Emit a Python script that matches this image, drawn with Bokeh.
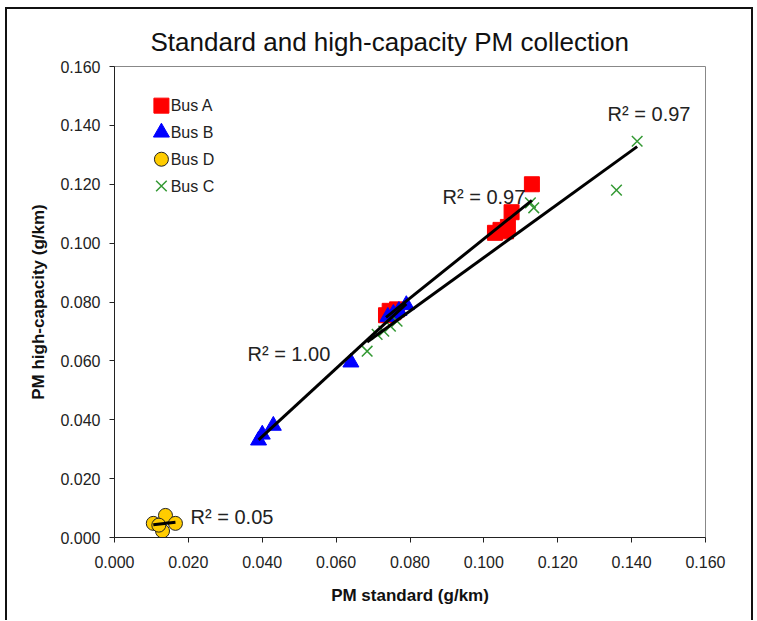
import numpy as np
from bokeh.plotting import figure
from bokeh.models import Label, FixedTicker, CustomJSTickFormatter
from bokeh.core.properties import value
from bokeh.embed import file_html
from bokeh.resources import INLINE

# ---- data ----
bus_a_x = [0.0735, 0.0745, 0.0755, 0.0765, 0.1030, 0.1045, 0.1060, 0.1065, 0.1075, 0.1130]
bus_a_y = [0.0755, 0.0770, 0.0765, 0.0775, 0.1035, 0.1045, 0.1040, 0.1055, 0.1105, 0.1200]

bus_b_x = [0.0390, 0.0400, 0.0430, 0.0640, 0.0740, 0.0755, 0.0770, 0.0790]
bus_b_y = [0.0330, 0.0350, 0.0380, 0.0595, 0.0750, 0.0760, 0.0770, 0.0790]

bus_c_x = [0.0684, 0.0711, 0.0729, 0.0747, 0.0765, 0.1126, 0.1135, 0.1359, 0.1415]
bus_c_y = [0.0633, 0.0690, 0.0701, 0.0718, 0.0735, 0.1137, 0.1120, 0.1180, 0.1346]

bus_d_x = [0.0105, 0.0138, 0.0165, 0.0130, 0.0120]
bus_d_y = [0.0048, 0.0075, 0.0048, 0.0022, 0.0042]

legend_labels = ["Bus A", "Bus B", "Bus D", "Bus C"]
r2_labels = ["R² = 0.97", "R² = 1.00", "R² = 0.97", "R² = 0.05"]  # A, B, C, D
ticks = [0.000, 0.020, 0.040, 0.060, 0.080, 0.100, 0.120, 0.140, 0.160]

FONT = "Liberation Sans"

p = figure(width=748, height=613, x_range=(0, 0.16), y_range=(0, 0.16),
           output_backend="svg", toolbar_location=None,
           min_border_left=107, min_border_right=50, min_border_top=57, min_border_bottom=85,
           margin=(7, 0, 0, 5),
           styles={"border-left": "2px solid #111", "border-top": "2px solid #111",
                   "border-right": "2px solid #111"})

p.title.text = "Standard and high-capacity PM collection"
p.title.align = "left"
p.title.offset = 36
p.title.text_font = FONT
p.title.text_font_size = "26px"
p.title.text_font_style = "normal"
p.title.text_color = "#111111"
p.title.standoff = 20

p.grid.visible = False
p.outline_line_color = "#888888"
p.outline_line_width = 1
p.background_fill_color = "white"
p.border_fill_color = "white"

fmt = CustomJSTickFormatter(code="return tick.toFixed(3);")
for ax in (p.xaxis[0], p.yaxis[0]):
    ax.ticker = FixedTicker(ticks=ticks)
    ax.formatter = fmt
    ax.minor_tick_line_color = None
    ax.major_tick_in = 0
    ax.major_tick_out = 5
    ax.axis_line_color = "#222222"
    ax.major_tick_line_color = "#222222"
    ax.major_label_text_font = FONT
    ax.major_label_text_font_size = "16px"
    ax.major_label_text_color = "#222222"
    ax.axis_label_text_font = FONT
    ax.axis_label_text_font_size = "17px"
    ax.axis_label_text_font_style = "bold"
    ax.axis_label_text_color = "#111111"

p.xaxis[0].axis_label = "PM standard (g/km)"
p.yaxis[0].axis_label = "PM high-capacity (g/km)"
p.xaxis[0].major_label_standoff = 13
p.yaxis[0].major_label_standoff = 9
p.xaxis[0].axis_label_standoff = 15
p.yaxis[0].axis_label_standoff = 9

series = [(bus_a_x, bus_a_y), (bus_b_x, bus_b_y), (bus_c_x, bus_c_y), (bus_d_x, bus_d_y)]

STY_A = dict(marker="square", size=15, fill_color="#FF0000", line_color="#FF0000")
STY_B = dict(marker="triangle", size=16, fill_color="#0000FF", line_color="#0000FF")
STY_D = dict(marker="circle", size=14, fill_color="#FFCC00", line_color="#222222", line_width=1)
STY_C = dict(marker="x", size=15, line_color="#339933", line_width=1.5)

p.scatter(bus_a_x, bus_a_y, **STY_A)
p.scatter(bus_b_x, bus_b_y, **STY_B)
p.scatter(bus_d_x, bus_d_y, **STY_D)
p.scatter(bus_c_x, bus_c_y, **STY_C)

# linear trendlines (least squares over each series' x range), drawn over markers
for xs, ys in series:
    m, b = np.polyfit(xs, ys, 1)
    xx = np.array([min(xs), max(xs)])
    p.line(xx, m * xx + b, line_color="black", line_width=3)

# legend (drawn manually, upper-left inside the plot area)
LEG_X = 0.0127          # marker centre
LEG_TX = 0.0152         # text start
LEG_Y0 = 0.1467         # first row
LEG_DY = 0.0091         # row pitch
for i, (lab, sty) in enumerate(zip(legend_labels, [STY_A, STY_B, STY_D, STY_C])):
    yy = LEG_Y0 - i * LEG_DY
    p.scatter([LEG_X], [yy], **sty)
    p.text([LEG_TX], [yy], text=[lab], text_font=value(FONT), text_font_size="16px",
           text_color="#222222", text_baseline="middle", text_align="left")

# R² label positions (data coords)
label_pos = [(0.0888, 0.1155), (0.0360, 0.0622), (0.1335, 0.1437), (0.0206, 0.0068)]
for txt, (lx, ly) in zip(r2_labels, label_pos):
    p.add_layout(Label(x=lx, y=ly, text=txt, text_font=FONT, text_font_size="20px",
                       text_color="#222222", text_baseline="middle", text_align="left"))

open("out.html", "w").write(file_html(p, INLINE))
